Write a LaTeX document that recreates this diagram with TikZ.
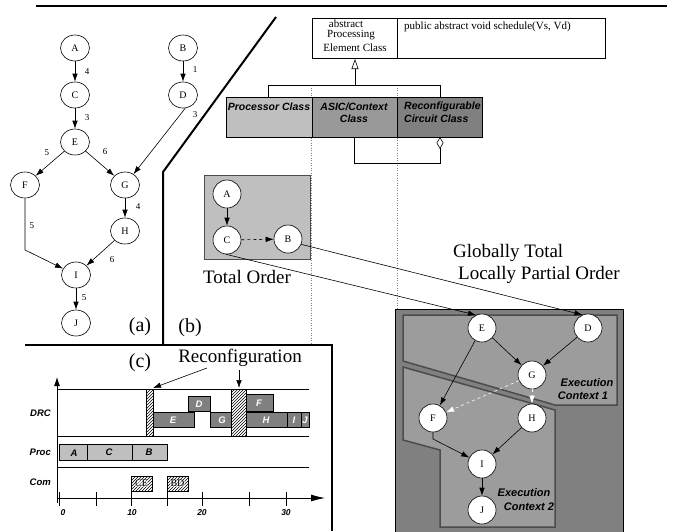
\documentclass[tikz,border=0pt]{standalone}
\usepackage{fontspec}
\setmainfont{Liberation Serif}
\newfontfamily\hv{Liberation Sans}
\usetikzlibrary{arrows.meta,shapes.geometric,patterns}
\newcommand\myfs[1]{\fontsize{#1}{#1}\selectfont}
\definecolor{lgray}{gray}{0.75}
\definecolor{mgray}{gray}{0.6}
\definecolor{dgray}{gray}{0.5}
\definecolor{exfill}{gray}{0.5}
\definecolor{ecfill}{gray}{0.61}
\definecolor{ecline}{gray}{0.3}
\begin{document}
\begin{tikzpicture}[x=1pt,y=-1pt,
  thk/.style={line width=2},
  an/.style={draw, ellipse, minimum width=29, minimum height=26, inner sep=0, line width=0.6, font=\myfs{10}},
  bn/.style={draw, circle, fill=white, minimum size=28, inner sep=0, line width=0.6, font=\myfs{10}},
  arr/.style={-{Latex[length=8,width=5.5]}, line width=0.6},
  el/.style={inner sep=0, font=\myfs{9}},
  big/.style={inner sep=0, font=\myfs{19}},
  uml/.style={inner sep=0, font=\myfs{11}},
  cls/.style={inner sep=0, font=\hv\bfseries\itshape\myfs{10.5}},
  ec/.style={inner sep=0, font=\hv\bfseries\itshape\myfs{11}},
  rowlab/.style={inner sep=0, font=\hv\bfseries\itshape\myfs{9.5}},
  ticklab/.style={inner sep=0, font=\hv\bfseries\itshape\myfs{8.5}},
  barlab/.style={inner sep=0, font=\hv\bfseries\itshape\myfs{9.5}, text=white},
  blacklab/.style={inner sep=0, font=\hv\bfseries\itshape\myfs{9.5}},
  bar/.style={draw, line width=0.6},
  hatch/.style={draw, line width=0.6, preaction={fill=white}, pattern=north east lines},
  comlab/.style={inner sep=0.5, font=\myfs{10}, fill=white, fill opacity=0.5, text opacity=1},
  region/.style={draw=ecline, line width=1.5, fill=ecfill},
  dotln/.style={dotted, line width=0.5, gray}]
\useasboundingbox (0,0) rectangle (673,531);

% frame lines
\draw[thk] (36,6) -- (667,6);
\draw[thk] (276,17) -- (163,172) -- (163,345);
\draw[thk] (25,345) -- (332,345) -- (332,531);

% ---------------- (a) graph
\node[an] (A) at (75,48) {A};
\node[an] (C) at (75,95) {C};
\node[an] (E) at (75,142) {E};
\node[an] (B) at (183,48) {B};
\node[an] (D) at (183,95) {D};
\node[an] (F) at (25,185) {F};
\node[an] (G) at (125,185) {G};
\node[an] (H) at (125,231) {H};
\node[an] (I) at (76,275) {I};
\node[an] (J) at (76,323) {J};
\coordinate (fi) at (25,250);
\draw[arr] (A) -- (C);
\draw[arr] (C) -- (E);
\draw[arr] (E) -- (F);
\draw[arr] (E) -- (G);
\draw[arr] (B) -- (D);
\draw[arr] (D.-80) -- (G);
\draw[arr] (G) -- (H);
\draw[arr] (H) -- (I);
\draw[arr] (F) -- (fi) -- (I);
\draw[arr] (I) -- (J);
\node[el] (l1) at (87,72) {4};
\node[el] (l2) at (87,118) {3};
\node[el] (l3) at (47,153) {5};
\node[el] (l4) at (105,152) {6};
\node[el] (l5) at (195,70) {1};
\node[el] (l6) at (195,115) {3};
\node[el] (l7) at (138,207) {4};
\node[el] (l8) at (32,226) {5};
\node[el] (l9) at (112,260) {6};
\node[el] (l10) at (84,298) {5};
\node[big, font=\myfs{20}] (la) at (140,327) {(a)};
\node[big, font=\myfs{20}] (lb) at (190,328) {(b)};
\node[big, font=\myfs{20}] (lc) at (140,363) {(c)};

% ---------------- UML
\draw[line width=0.8] (312,18) rectangle (605,58);
\draw[line width=0.8] (397,18) -- (397,58);
\node[uml] (u1) at (346,24) {abstract};
\node[uml] (u2) at (351,35.5) {Processing};
\node[uml] (u3) at (355,47.5) {Element Class};
\node[uml, anchor=west] (u4) at (404,27) {public abstract void schedule(Vs, Vd)};
\draw[dotln] (311,85) -- (311,345);
\draw[dotln] (397,85) -- (397,309);
\draw[line width=0.6] (268,97) -- (268,85) -- (440,85) -- (440,97);
\draw[line width=0.6, -{Triangle[open,length=10,width=7]}] (355,85) -- (355,59);
\draw[line width=0.8, fill=lgray] (226,97) rectangle (312,137);
\draw[line width=0.8, fill=mgray] (312,97) rectangle (397,137);
\draw[line width=0.8, fill=dgray] (397,97) rectangle (482,137);
\node[cls] (c1) at (269,107) {Processor Class};
\node[cls] (c2) at (354,107) {ASIC/Context};
\node[cls] (c3) at (354,119) {Class};
\node[cls, anchor=west] (c4) at (404,107) {Reconfigurable};
\node[cls, anchor=west] (c5) at (404,119) {Circuit Class};
\draw[line width=0.6, {Diamond[open,length=12,width=7]}-] (440,137) -- (440,163) -- (354,163) -- (354,137);

% ---------------- (b) total order
\draw[draw=ecline, line width=0.8, fill=lgray] (204,175) rectangle (310,259);
\node[bn] (bA) at (227,194) {A};
\node[bn] (bC) at (227,240) {C};
\node[bn] (bB) at (288,239) {B};
\draw[arr] (bA) -- (bC);
\draw[arr, dashed] (bC) -- (bB);
\node[big] (to) at (247,277) {Total Order};
\node[big, anchor=west] (gt) at (453,253) {Globally Total};
\node[big, anchor=west] (lp) at (458,275) {Locally Partial Order};

% execution box
\draw[line width=0.8, fill=exfill] (395,309) rectangle (623,535);
\draw[region] (403,315) -- (617,315) -- (617,405) -- (555,405) -- (403,361) -- cycle;
\draw[region] (403,367) -- (555,410) -- (555,527) -- (440,527) -- (440,450) -- (403,440) -- cycle;
\node[bn] (xE) at (482,328) {E};
\node[bn] (xD) at (588,328) {D};
\node[bn] (xG) at (532,375) {G};
\node[bn] (xF) at (433,418) {F};
\node[bn] (xH) at (532,418) {H};
\node[bn] (xI) at (482,464) {I};
\node[bn] (xJ) at (482,510) {J};
\coordinate (fi2) at (433,439);
\draw[arr] (bC.-95) -- (xE.115);
\draw[arr] (bB.-22) -- (xD.113);
\draw[arr] (xE) -- (xG);
\draw[arr] (xD) -- (xG);
\draw[arr] (xE) -- (xF);
\draw[arr, white, dashed] (xG) -- (xF);
\draw[arr, white, dashed] (xG) -- (xH);
\draw[arr] (xF) -- (fi2) -- (xI);
\draw[arr] (xH) -- (xI);
\draw[arr] (xI) -- (xJ);
\node[ec] (e1) at (587,383) {Execution};
\node[ec] (e2) at (583,396) {Context 1};
\node[ec] (e3) at (524,493) {Execution};
\node[ec] (e4) at (529,507) {Context 2};

% ---------------- (c) Gantt chart
\draw[line width=0.6] (57,389) -- (309,389);
\draw[line width=0.6] (57,436) -- (309,436);
\draw[line width=0.6] (57,467) -- (309,467);
\draw[line width=0.8, -{Latex[length=9,width=6]}] (57,503) -- (57,377);
\draw[line width=0.8, -{Latex[length=14,width=7]}] (57,498) -- (325,498);
\foreach \t in {59,96,131,167,202,249,286} \draw[line width=0.8] (\t,492) -- (\t,506);
\node[ticklab] (t0) at (63,513) {0};
\node[ticklab] (t10) at (132,513) {10};
\node[ticklab] (t20) at (202,513) {20};
\node[ticklab] (t30) at (286,513) {30};
\node[rowlab, anchor=east] (rDRC) at (51,413) {DRC};
\node[rowlab, anchor=east] (rProc) at (51,452) {Proc};
\node[rowlab, anchor=east] (rCom) at (51,482) {Com};
% proc bars
\draw[bar, fill=lgray] (59,444) rectangle (87,460);
\draw[bar, fill=lgray] (87,444) rectangle (132,460);
\draw[bar, fill=lgray] (132,444) rectangle (167,460);
\node[blacklab] (pA) at (74,453) {A};
\node[blacklab] (pC) at (109,452) {C};
\node[blacklab] (pB) at (149,452) {B};
% DRC bars
\draw[bar, fill=dgray] (153,412) rectangle (194,427);
\draw[bar, fill=dgray] (188,396) rectangle (210,411);
\draw[bar, fill=dgray] (210,412) rectangle (231,427);
\draw[bar, fill=dgray] (246,394) rectangle (273,411);
\draw[bar, fill=dgray] (246,412) rectangle (287,427);
\draw[bar, fill=dgray] (287,412) rectangle (301,427);
\draw[bar, fill=dgray] (301,412) rectangle (309,427);
\node[barlab] (dE) at (173,420) {E};
\node[barlab] (dD) at (199,404) {D};
\node[barlab] (dG) at (222,420) {G};
\node[barlab] (dF) at (259,403) {F};
\node[barlab] (dH) at (266,420) {H};
\node[barlab] (dI) at (294,420) {I};
\node[barlab] (dJ) at (305,420) {J};
% reconfiguration
\draw[hatch] (146,389) rectangle (153,436);
\draw[hatch] (231,389) rectangle (246,436);
\node[big] (rc) at (240,358) {Reconfiguration};
\draw[arr] (207,368) -- (153,388);
\draw[arr] (239,370) -- (239,388);
% com
\draw[hatch] (131,476) rectangle (152,491);
\draw[hatch] (167,476) rectangle (188,491);
\node[comlab] (cCE) at (141.5,483.5) {CE};
\node[comlab] (cBD) at (177.5,483.5) {BD};
\end{tikzpicture}
\end{document}
